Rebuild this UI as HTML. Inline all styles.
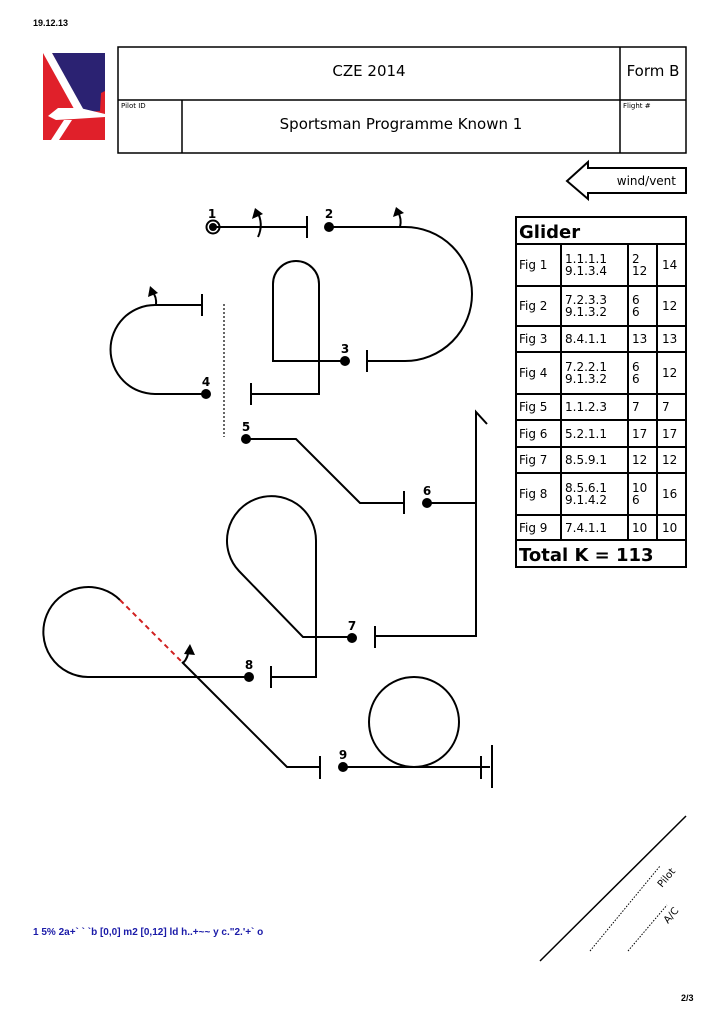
<!DOCTYPE html>
<html><head><meta charset="utf-8"><style>
html,body{margin:0;padding:0;background:#fff;}
svg{display:block;}
text{font-family:"DejaVu Sans","Liberation Sans",sans-serif;}
</style></head><body>
<svg width="724" height="1024" viewBox="0 0 724 1024" xmlns="http://www.w3.org/2000/svg">
<text x="33" y="26" font-size="9" font-weight="bold" style="font-family:'Liberation Sans',sans-serif">19.12.13</text>
<!-- logo -->
<rect x="43" y="53" width="62" height="87" fill="#e0202a"/>
<polygon points="52,53 105,53 105,91 101,93 100,111 84,112" fill="#2b2272"/>
<polygon points="43,53 52,53 86,114 78,116" fill="#fff"/>
<polygon points="48,116 58,108 80,108 105,114 105,117 74,119 56,120" fill="#fff"/>
<polygon points="64,120 72,120 59,140 51,140" fill="#fff"/>
<!-- header -->
<g fill="none" stroke="#000" stroke-width="1.5">
<rect x="118" y="47" width="568" height="106"/>
<line x1="118" y1="100" x2="686" y2="100"/>
<line x1="620" y1="47" x2="620" y2="153"/>
<line x1="182" y1="100" x2="182" y2="153"/>
</g>
<text x="369" y="76" font-size="15" text-anchor="middle">CZE 2014</text>
<text x="653" y="76" font-size="15" text-anchor="middle">Form B</text>
<text x="121" y="108" font-size="7">Pilot ID</text>
<text x="623" y="108" font-size="7">Flight #</text>
<text x="401" y="129" font-size="15" text-anchor="middle">Sportsman Programme Known 1</text>
<!-- wind -->
<polygon points="567,181 588,162 588,168 686,168 686,193 588,193 588,199" fill="#fff" stroke="#000" stroke-width="2"/>
<text x="676" y="185" font-size="12" text-anchor="end">wind/vent</text>
<!-- table -->
<g fill="none" stroke="#000" stroke-width="2">
<rect x="516" y="217" width="170" height="350"/>
<line x1="516" y1="244" x2="686" y2="244"/>
<line x1="516" y1="286" x2="686" y2="286"/>
<line x1="516" y1="326" x2="686" y2="326"/>
<line x1="516" y1="352" x2="686" y2="352"/>
<line x1="516" y1="394" x2="686" y2="394"/>
<line x1="516" y1="420" x2="686" y2="420"/>
<line x1="516" y1="447" x2="686" y2="447"/>
<line x1="516" y1="473" x2="686" y2="473"/>
<line x1="516" y1="515" x2="686" y2="515"/>
<line x1="516" y1="540" x2="686" y2="540"/>
<line x1="561" y1="244" x2="561" y2="540"/>
<line x1="628" y1="244" x2="628" y2="540"/>
<line x1="657" y1="244" x2="657" y2="540"/>
</g>
<g font-size="12">
<text x="519" y="238" font-size="18" font-weight="bold">Glider</text>
<text x="519" y="269">Fig 1</text><text x="565" y="263">1.1.1.1</text><text x="565" y="275">9.1.3.4</text><text x="632" y="263">2</text><text x="632" y="275">12</text><text x="662" y="269">14</text>
<text x="519" y="310">Fig 2</text><text x="565" y="304">7.2.3.3</text><text x="565" y="316">9.1.3.2</text><text x="632" y="304">6</text><text x="632" y="316">6</text><text x="662" y="310">12</text>
<text x="519" y="343">Fig 3</text><text x="565" y="343">8.4.1.1</text><text x="632" y="343">13</text><text x="662" y="343">13</text>
<text x="519" y="377">Fig 4</text><text x="565" y="371">7.2.2.1</text><text x="565" y="383">9.1.3.2</text><text x="632" y="371">6</text><text x="632" y="383">6</text><text x="662" y="377">12</text>
<text x="519" y="411">Fig 5</text><text x="565" y="411">1.1.2.3</text><text x="632" y="411">7</text><text x="662" y="411">7</text>
<text x="519" y="438">Fig 6</text><text x="565" y="438">5.2.1.1</text><text x="632" y="438">17</text><text x="662" y="438">17</text>
<text x="519" y="464">Fig 7</text><text x="565" y="464">8.5.9.1</text><text x="632" y="464">12</text><text x="662" y="464">12</text>
<text x="519" y="498">Fig 8</text><text x="565" y="492">8.5.6.1</text><text x="565" y="504">9.1.4.2</text><text x="632" y="492">10</text><text x="632" y="504">6</text><text x="662" y="498">16</text>
<text x="519" y="532">Fig 9</text><text x="565" y="532">7.4.1.1</text><text x="632" y="532">10</text><text x="662" y="532">10</text>
<text x="519" y="561" font-size="18" font-weight="bold">Total K = 113</text>
</g>
<!-- figures -->
<g fill="none" stroke="#000" stroke-width="2">
<circle cx="213" cy="227" r="6.5"/>
<line x1="213" y1="227" x2="307" y2="227"/><line x1="307" y1="216" x2="307" y2="238"/>
<path d="M258,237 Q264,224 257,211"/>
<path d="M329,227 H405 A67,67 0 0 1 405,361 H367"/><line x1="367" y1="350" x2="367" y2="372"/>
<path d="M400,227 Q402,219 398,212"/>
<path d="M345,361 H273 V284 A23,23 0 0 1 319,284 V394 H251"/><line x1="251" y1="383" x2="251" y2="405"/>
<path d="M206,394 H155 A44.5,44.5 0 0 1 155,305 H202"/><line x1="202" y1="294" x2="202" y2="316"/>
<path d="M156,305 Q157,297 152,291"/>
<line x1="224" y1="304" x2="224" y2="437" stroke-width="1.2" stroke-dasharray="2,2"/>
<path d="M246,439 H296 L360,503 H404"/><line x1="404" y1="491" x2="404" y2="514"/>
<path d="M427,503 H476"/><path d="M487,424 L476,412 V636 H375"/><line x1="375" y1="626" x2="375" y2="648"/>
<path d="M352,637 H303 L239,571 A44.5,44.5 0 1 1 316,541 V677 H271"/><line x1="271" y1="666" x2="271" y2="688"/>
<path d="M249,677 H88 A45,45 0 1 1 120,600"/>
<path d="M120,600 L182,662" stroke="#d02020" stroke-dasharray="5,4"/>
<path d="M182,662 L287,767 H320"/><line x1="320" y1="756" x2="320" y2="779"/>
<path d="M183,663 Q189,657 188,649"/>
<path d="M343,767 H490"/><line x1="481" y1="756" x2="481" y2="779"/><line x1="492" y1="745" x2="492" y2="788"/>
<circle cx="414" cy="722" r="45"/>
</g>
<g fill="#000">
<circle cx="213" cy="227" r="4"/>
<circle cx="329" cy="227" r="5"/><circle cx="345" cy="361" r="5"/><circle cx="206" cy="394" r="5"/>
<circle cx="246" cy="439" r="5"/><circle cx="427" cy="503" r="5"/><circle cx="352" cy="638" r="5"/>
<circle cx="249" cy="677" r="5"/><circle cx="343" cy="767" r="5"/>
<polygon points="255,208 252,219 263,214"/>
<polygon points="396,207 393,217 404,213"/>
<polygon points="150,286 148,297 158,293"/>
<polygon points="190,644 184,654 195,655"/>
</g>
<g font-size="12" font-weight="bold" text-anchor="middle">
<text x="212" y="218">1</text><text x="329" y="218">2</text><text x="345" y="353">3</text><text x="206" y="386">4</text>
<text x="246" y="431">5</text><text x="427" y="495">6</text><text x="352" y="630">7</text><text x="249" y="669">8</text><text x="343" y="759">9</text>
</g>
<line x1="540" y1="961" x2="686" y2="816" stroke="#000" stroke-width="1.5"/>
<line x1="590" y1="951" x2="660" y2="866" stroke="#000" stroke-width="1" stroke-dasharray="1.5,1.5"/>
<line x1="628" y1="951" x2="667" y2="905" stroke="#000" stroke-width="1" stroke-dasharray="1.5,1.5"/>
<text x="0" y="0" font-size="10" transform="translate(662,888) rotate(-50)">Pilot</text>
<text x="0" y="0" font-size="10" transform="translate(668,924) rotate(-50)">A/C</text>
<text x="33" y="935" font-size="10" font-weight="bold" fill="#1a1aa8" style="font-family:'Liberation Sans',sans-serif">1 5% 2a+` `  `b [0,0] m2 [0,12] ld h..+~~ y c."2.'+` o</text>
<text x="681" y="1001" font-size="9" font-weight="bold" style="font-family:'Liberation Sans',sans-serif">2/3</text>
</svg>
</body></html>
